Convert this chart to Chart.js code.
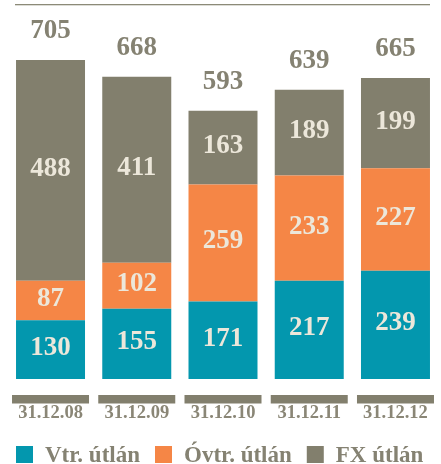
<!DOCTYPE html>
<html>
<head>
<meta charset="utf-8">
<script src="https://cdn.jsdelivr.net/npm/chart.js@4/dist/chart.umd.min.js"></script>
<style>
  html, body { margin: 0; padding: 0; background: #fff; }
  #wrap { width: 441px; height: 464px; }
</style>
</head>
<body>
<div id="wrap"><canvas id="canvas" width="441" height="464"></canvas></div>
<script>
// data
const datumok = ['31.12.08', '31.12.09', '31.12.10', '31.12.11', '31.12.12'];
const vtr = [130, 155, 171, 217, 239];
const ovtr = [87, 102, 259, 233, 227];
const fx = [488, 411, 163, 189, 199];
const sorNevek = ['Vtr. útlán', 'Óvtr. útlán', 'FX útlán'];

const szinek = ['#0397AE', '#F58646', '#827F6D'];
const szurke = '#858272';
const betu = "'Liberation Serif', 'Times New Roman', serif";

/* feliratok, savok, jelmagyarazat */
const rajzolo = {
  id: 'rajzolo',
  afterDatasetsDraw(chart) {
    const ctx = chart.ctx;
    const x = chart.scales.x;
    const y = chart.scales.y;
    ctx.save();

    // vekony vonal felul
    ctx.fillStyle = '#8c8a78';
    ctx.fillRect(15, 4, 415, 1.3);

    // ertekek a savokban
    ctx.font = 'bold 27px ' + betu;
    ctx.textAlign = 'center';
    ctx.textBaseline = 'middle';
    ctx.fillStyle = '#ECE7DA';
    chart.data.datasets.forEach(function(ds, di){
      const meta = chart.getDatasetMeta(di);
      meta.data.forEach(function(bar, i){
        const kozep = (bar.y + bar.base) / 2 - 1.5;
        ctx.fillText(ds.data[i], bar.x, kozep);
      });
    });

    // osszegek
    ctx.fillStyle = szurke;
    ctx.textBaseline = 'alphabetic';
    datumok.forEach(function(d, i){
      const ossz = vtr[i] + ovtr[i] + fx[i];
      ctx.fillText(ossz, x.getPixelForValue(i), y.getPixelForValue(ossz) - 22);
    });

    // szurke savok + datumok
    datumok.forEach(function(d, i){
      const px = x.getPixelForValue(i);
      ctx.fillStyle = '#827F6D';
      ctx.fillRect(px - 38.5, 395, 77, 8.5);
      ctx.fillStyle = '#8a8676';
      ctx.font = 'bold 18.5px ' + betu;
      ctx.fillText(d, px, 417.5);
    });

    // jelmagyarazat
    ctx.font = 'bold 23px ' + betu;
    ctx.textAlign = 'left';
    let lx = 16;
    sorNevek.forEach(function(nev, i){
      ctx.fillStyle = szinek[i];
      ctx.fillRect(lx, 446, 17, 17);
      ctx.fillStyle = szurke;
      ctx.fillText(nev, lx + 29, 462);
      lx += 29 + ctx.measureText(nev).width + 15;
    });

    ctx.restore();
  }
};

const ctx = document.getElementById('canvas');
new Chart(ctx, {
  type: 'bar',
  data: {
    labels: datumok,
    datasets: [
      { label: sorNevek[0], data: vtr, backgroundColor: szinek[0] },
      { label: sorNevek[1], data: ovtr, backgroundColor: szinek[1] },
      { label: sorNevek[2], data: fx, backgroundColor: szinek[2] }
    ]
  },
  options: {
    responsive: false,
    animation: false,
    layout: { padding: { left: 7.4, right: 2.4, top: 17, bottom: 85 } },
    datasets: { bar: { barPercentage: 1, categoryPercentage: 0.8, borderWidth: 0 } },
    plugins: {
      legend: { display: false },
      tooltip: { enabled: false }
    },
    scales: {
      x: { stacked: true, display: false },
      y: { stacked: true, display: false, min: 0, max: 800 }
    }
  },
  plugins: [rajzolo]
});
</script>
</body>
</html>
